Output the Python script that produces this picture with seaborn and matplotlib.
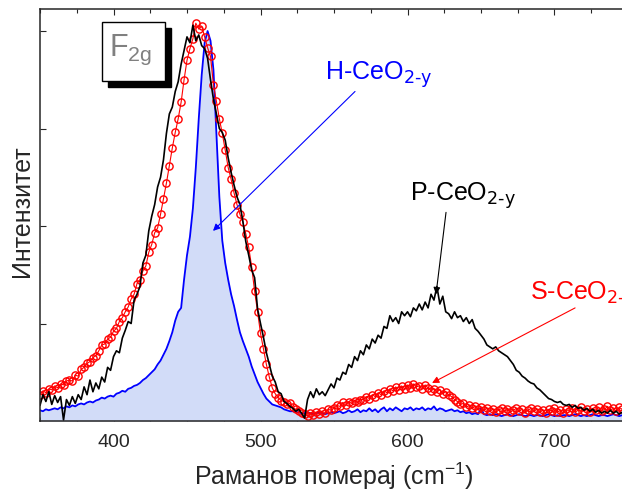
import numpy as np
import pandas as pd
import matplotlib
matplotlib.use("Agg")
import matplotlib.pyplot as plt
from matplotlib.patches import Rectangle
from matplotlib.ticker import MultipleLocator
import seaborn as sns

# Raman shift grid (cm^-1), one reading every 2 cm^-1
shift = np.arange(350, 748, 2)

# H-CeO2-y (blue, filled)
h_int = [
    0.11, 0.10, 0.12, 0.11, 0.12, 0.13, 0.12, 0.14, 0.13, 0.15,
    0.14, 0.16, 0.15, 0.17, 0.18, 0.17, 0.19, 0.20, 0.19, 0.21,
    0.22, 0.24, 0.23, 0.25, 0.26, 0.25, 0.28, 0.29, 0.31, 0.30,
    0.33, 0.34, 0.36, 0.37, 0.39, 0.42, 0.44, 0.47, 0.50, 0.53,
    0.58, 0.62, 0.68, 0.74, 0.82, 0.91, 1.03, 1.12, 1.16, 1.45,
    1.70, 1.89, 2.18, 2.60, 3.10, 3.55, 3.88, 4.00, 3.90, 3.60,
    2.95, 2.30, 1.85, 1.62, 1.45, 1.30, 1.18, 1.04, 0.91, 0.82,
    0.74, 0.66, 0.56, 0.48, 0.40, 0.34, 0.28, 0.23, 0.20, 0.17,
    0.16, 0.15, 0.14, 0.12, 0.11, 0.10, 0.10, 0.09, 0.09, 0.08,
    0.08, 0.09, 0.08, 0.07, 0.08, 0.09, 0.08, 0.07, 0.08, 0.09,
    0.08, 0.09, 0.10, 0.08, 0.09, 0.11, 0.09, 0.10, 0.12, 0.09,
    0.11, 0.10, 0.13, 0.10, 0.12, 0.09, 0.12, 0.14, 0.10, 0.13,
    0.11, 0.14, 0.12, 0.10, 0.13, 0.12, 0.14, 0.11, 0.13, 0.12,
    0.14, 0.11, 0.13, 0.12, 0.15, 0.11, 0.13, 0.12, 0.10, 0.11,
    0.12, 0.10, 0.11, 0.09, 0.10, 0.08, 0.09, 0.07, 0.08, 0.07,
    0.13, 0.07, 0.06, 0.07, 0.06, 0.07, 0.06, 0.05, 0.06, 0.07,
    0.06, 0.05, 0.06, 0.07, 0.06, 0.05, 0.06, 0.06, 0.05, 0.06,
    0.06, 0.05, 0.06, 0.07, 0.06, 0.05, 0.06, 0.05, 0.06, 0.06,
    0.05, 0.06, 0.07, 0.06, 0.05, 0.06, 0.05, 0.06, 0.07, 0.06,
    0.05, 0.06, 0.06, 0.05, 0.06, 0.07, 0.06, 0.05, 0.06,
]

# P-CeO2-y (black line)
p_int = [
    0.16, 0.27, 0.20, 0.30, 0.17, 0.26, 0.19, 0.25, 0.01, 0.22,
    0.16, 0.25, 0.18, 0.27, 0.22, 0.35, 0.27, 0.42, 0.30, 0.39,
    0.33, 0.45, 0.40, 0.55, 0.52, 0.66, 0.72, 0.70, 0.85, 0.93,
    1.02, 1.00, 1.24, 1.30, 1.38, 1.62, 1.70, 1.95, 2.10, 2.22,
    2.40, 2.50, 2.68, 2.95, 3.15, 3.22, 3.38, 3.48, 3.66, 3.80,
    3.94, 3.88, 4.06, 3.90, 3.96, 3.85, 3.82, 3.72, 3.50, 3.30,
    3.15, 3.00, 2.96, 2.88, 2.70, 2.55, 2.42, 2.30, 2.22, 2.05,
    1.84, 1.70, 1.55, 1.47, 1.15, 1.00, 0.86, 0.70, 0.58, 0.46,
    0.40, 0.30, 0.28, 0.20, 0.18, 0.15, 0.13, 0.10, 0.12, 0.08,
    0.03, 0.22, 0.30, 0.24, 0.33, 0.27, 0.30, 0.26, 0.32, 0.38,
    0.34, 0.44, 0.42, 0.50, 0.48, 0.58, 0.55, 0.66, 0.62, 0.72,
    0.68, 0.78, 0.74, 0.84, 0.80, 0.88, 0.85, 0.97, 0.95, 1.08,
    1.02, 1.06, 1.00, 1.12, 1.08, 1.12, 1.07, 1.16, 1.13, 1.20,
    1.14, 1.22, 1.16, 1.30, 1.24, 1.38, 1.20, 1.28, 1.12, 1.10,
    1.05, 1.12, 1.06, 1.08, 1.02, 1.06, 1.00, 1.04, 0.95, 0.92,
    0.88, 0.84, 0.78, 0.76, 0.74, 0.76, 0.72, 0.70, 0.68, 0.66,
    0.62, 0.58, 0.52, 0.50, 0.46, 0.44, 0.41, 0.39, 0.38, 0.34,
    0.32, 0.29, 0.26, 0.23, 0.22, 0.20, 0.19, 0.20, 0.17, 0.16,
    0.17, 0.14, 0.16, 0.13, 0.14, 0.11, 0.13, 0.10, 0.12, 0.09,
    0.11, 0.08, 0.10, 0.08, 0.11, 0.08, 0.10, 0.07, 0.09,
]

# S-CeO2-y (red open circles)
s_int = [
    0.27, 0.31, 0.29, 0.33, 0.32, 0.36, 0.34, 0.38, 0.37, 0.41,
    0.42, 0.41, 0.47, 0.46, 0.53, 0.55, 0.59, 0.61, 0.65, 0.67,
    0.72, 0.78, 0.79, 0.84, 0.86, 0.92, 0.95, 1.02, 1.06, 1.12,
    1.17, 1.25, 1.30, 1.41, 1.45, 1.54, 1.59, 1.73, 1.81, 1.93,
    1.98, 2.12, 2.28, 2.44, 2.62, 2.80, 2.96, 3.10, 3.27, 3.50,
    3.70, 3.82, 3.92, 4.08, 4.02, 4.05, 3.94, 3.83, 3.74, 3.45,
    3.28, 3.10, 2.95, 2.78, 2.60, 2.48, 2.34, 2.22, 2.12, 2.04,
    1.92, 1.78, 1.58, 1.33, 1.12, 0.90, 0.74, 0.58, 0.45, 0.34,
    0.28, 0.24, 0.21, 0.20, 0.17, 0.18, 0.14, 0.12, 0.10, 0.08,
    0.07, 0.05, 0.08, 0.06, 0.09, 0.07, 0.10, 0.08, 0.12, 0.11,
    0.13, 0.16, 0.15, 0.19, 0.16, 0.20, 0.18, 0.21, 0.19, 0.22,
    0.22, 0.25, 0.23, 0.27, 0.25, 0.29, 0.27, 0.31, 0.29, 0.33,
    0.31, 0.35, 0.32, 0.36, 0.33, 0.37, 0.34, 0.38, 0.35, 0.36,
    0.33, 0.37, 0.34, 0.31, 0.33, 0.30, 0.32, 0.28, 0.30, 0.27,
    0.25, 0.22, 0.20, 0.17, 0.18, 0.14, 0.16, 0.13, 0.15, 0.12,
    0.14, 0.11, 0.13, 0.10, 0.12, 0.09, 0.11, 0.13, 0.10, 0.12,
    0.09, 0.11, 0.13, 0.10, 0.12, 0.08, 0.11, 0.13, 0.10, 0.12,
    0.09, 0.11, 0.08, 0.12, 0.10, 0.13, 0.09, 0.11, 0.08, 0.12,
    0.10, 0.13, 0.09, 0.11, 0.14, 0.10, 0.12, 0.09, 0.13, 0.11,
    0.14, 0.10, 0.12, 0.15, 0.11, 0.13, 0.10, 0.14, 0.12,
]

x_ticks = [400, 500, 600, 700]

df = pd.DataFrame({"shift": shift, "H": h_int, "P": p_int, "S": s_int})

sns.set_style("ticks")
plt.rcParams["font.family"] = ["Liberation Sans", "DejaVu Sans"]
plt.rcParams["mathtext.default"] = "regular"

fig = plt.figure(figsize=(6.22, 4.90), dpi=100)
ax = fig.add_axes([40 / 622, 69 / 490, 588 / 622, 412 / 490])

# H sample: filled band plus outline
ax.fill_between(df["shift"], df["H"], 0, color="#d2dcf8", lw=0)
sns.lineplot(data=df, x="shift", y="H", color="#0000ff", lw=1.3,
             estimator=None, ax=ax)
# S sample: open red circles
sns.lineplot(data=df, x="shift", y="S", color="red", lw=0.8, marker="o",
             markersize=5.2, markerfacecolor="none", markeredgecolor="red",
             markeredgewidth=1.0, estimator=None, ax=ax)
# P sample
sns.lineplot(data=df, x="shift", y="P", color="black", lw=1.2,
             estimator=None, ax=ax)

ax.set_xlim(350, 750)
ax.set_ylim(0, 4.226)
ax.set_xticks(x_ticks)
ax.xaxis.set_minor_locator(MultipleLocator(25))
ax.set_yticks([1, 2, 3, 4])
ax.set_yticklabels([])
ax.tick_params(which="both", direction="in", top=True, width=0.8)
ax.tick_params(which="major", length=4.5, labelsize=14, pad=9)
ax.tick_params(which="minor", length=3)
for sp in ax.spines.values():
    sp.set_linewidth(1.1)

ax.set_xlabel("Раманов померај (cm$^{-1}$)", fontsize=18)
ax.set_ylabel("Интензитет", fontsize=18)
ax.xaxis.set_label_coords(0.5, -0.095)
ax.yaxis.set_label_coords(-0.01, 0.51)

# F2g label box with drop shadow
ax.add_patch(Rectangle((0.1156, 0.8106), 0.1071, 0.1432, transform=ax.transAxes,
                       facecolor="black", edgecolor="black", zorder=5))
ax.add_patch(Rectangle((0.1054, 0.8252), 0.1071, 0.1432, transform=ax.transAxes,
                       facecolor="white", edgecolor="black", lw=1.0, zorder=6))
ax.text(0.118, 0.885, "F$_{2g}$", transform=ax.transAxes, fontsize=22,
        color="#808080", va="baseline", zorder=7)

sub = r"$_{\text{2-y}}$"
arrow = dict(arrowstyle="-|>", lw=0.8, mutation_scale=10, shrinkA=0, shrinkB=0)
ax.annotate("", xy=(467.7, 1.95), xytext=(564.3, 3.38),
            arrowprops=dict(arrow, color="#0000ff"))
ax.text(543.9, 3.50, "H-CeO" + sub, color="#0000ff", fontsize=18, va="baseline")
ax.annotate("", xy=(619.4, 1.30), xytext=(626.2, 2.14),
            arrowprops=dict(arrow, color="black"))
ax.text(601.7, 2.26, "P-CeO" + sub, color="black", fontsize=18, va="baseline")
ax.annotate("", xy=(616.7, 0.39), xytext=(714.0, 1.16),
            arrowprops=dict(arrow, color="red"))
# runs past the right edge, as in the original figure
ax.text(683.3, 1.24, "S-CeO" + sub, color="red", fontsize=18, va="baseline")

fig.savefig("out.png", dpi=100)
